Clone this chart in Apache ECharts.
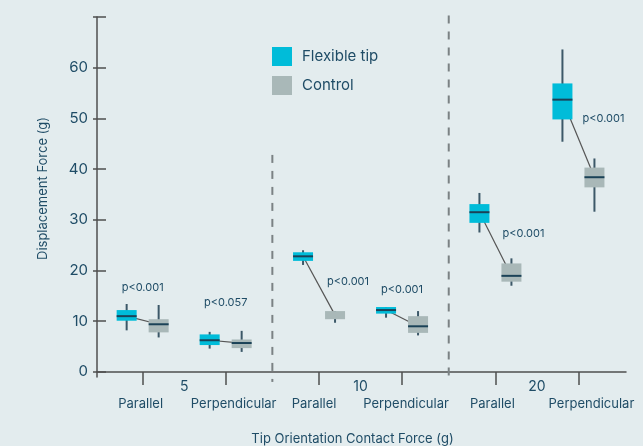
<!DOCTYPE html>
<html><head><meta charset="utf-8">
<script src="https://cdn.jsdelivr.net/npm/echarts@6/dist/echarts.min.js"></script>
<style>html,body{margin:0;padding:0;background:#e3ecee}#c{width:643px;height:446px}</style>
</head><body><div id="c"></div>
<script>
// ---------- data ----------
const categories = ['Parallel', 'Perpendicular', 'Parallel', 'Perpendicular', 'Parallel', 'Perpendicular'];
const forceGroups = ['5', '10', '20'];
const groupOfCategory = [0, 0, 1, 1, 2, 2];

const flexLow  = [8.2, 4.6, 21.1, 10.7, 27.5, 45.4];
const flexQ1   = [10.1, 5.3, 21.9, 11.5, 29.4, 49.8];
const flexMed  = [11.0, 6.25, 22.8, 12.2, 31.5, 53.7];
const flexQ3   = [12.2, 7.4, 23.6, 12.8, 33.1, 56.9];
const flexHigh = [13.4, 7.9, 24.0, 12.8, 35.3, 63.6];

const ctrlLow  = [6.8, 3.95, 9.7, 7.2, 17.0, 31.6];
const ctrlQ1   = [7.8, 4.7, 10.4, 7.7, 17.8, 36.4];
const ctrlMed  = [9.4, 5.7, null, 9.0, 18.95, 38.4];
const ctrlQ3   = [10.4, 6.4, 12.0, 11.0, 21.4, 40.3];
const ctrlHigh = [13.2, 8.1, 12.0, 12.0, 22.4, 42.1];

const pValues = ['p<0.001', 'p<0.057', 'p<0.001', 'p<0.001', 'p<0.001', 'p<0.001'];
const pLabelY = [16.7, 13.6, 17.8, 16.3, 27.3, 50.0];

const yTicks = [0, 10, 20, 30, 40, 50, 60, 70];
const yTickLabels = [0, 10, 20, 30, 40, 50, 60];
const separatorTop = [42.8, 70.3];

// ---------- layout / style ----------
const TEXT = '#1f4c66';
const AXIS = '#4f4f4f';
const FLEX = '#00bcd9';
const CTRL = '#a9b8b8';
const MEDIAN = '#1b4257';
const WHISKER = '#3c5868';
const FONT = 'Inter, "Noto Sans", sans-serif';

const GROUP_GAP = 0.125;
const X_MIN = -0.55, X_MAX = 5.823;
const GRID = {left: 97, right: 17, top: 17, bottom: 69};
const unitPx = (643 - GRID.left - GRID.right) / (X_MAX - X_MIN);
const catX = categories.map((c, i) => i + GROUP_GAP * groupOfCategory[i]);
const groupX = forceGroups.map((g, gi) => {
  const idx = groupOfCategory.map((gg, i) => gg === gi ? i : -1).filter(i => i >= 0);
  return idx.reduce((s, i) => s + catX[i], 0) / idx.length;
});
const labelShiftPx = [-2, 8, -5, 4, -3, 13];
const labelX = catX.map((x, i) => x + labelShiftPx[i] / unitPx);
const pShiftPx = [0, 0, 29, 0, 28, 25];
const sepX = [(catX[1] + catX[2]) / 2, (catX[3] + catX[4]) / 2];
const BOX_OFFSET = 16, BOX_HALF = 10;

function nearestIndex(arr, v) {
  let best = 0;
  arr.forEach((x, j) => { if (Math.abs(x - v) < Math.abs(arr[best] - v)) best = j; });
  return best;
}

function boxSeries(name, color, dx, low, q1, med, q3, high) {
  return {
    type: 'custom', name: name, z: 3,
    itemStyle: {color: color},
    data: catX.map((x, i) => [x, low[i], q1[i], med[i] == null ? NaN : med[i], q3[i], high[i]]),
    encode: {x: 0, y: [1, 2, 4, 5]},
    renderItem: function (params, api) {
      const x = api.value(0);
      const c = v => api.coord([x, v]);
      const pL = c(api.value(1)), p1 = c(api.value(2)), p3 = c(api.value(4)), pH = c(api.value(5));
      const cx = pL[0] + dx;
      const children = [
        {type: 'line', shape: {x1: cx, y1: pL[1], x2: cx, y2: pH[1]}, style: {stroke: WHISKER, lineWidth: 2}},
        {type: 'rect', shape: {x: cx - BOX_HALF, y: p3[1], width: BOX_HALF * 2, height: p1[1] - p3[1]}, style: {fill: color}}
      ];
      const m = api.value(3);
      if (m != null && !isNaN(m)) {
        const pm = c(m);
        children.push({type: 'line', shape: {x1: cx - BOX_HALF, y1: pm[1], x2: cx + BOX_HALF, y2: pm[1]}, style: {stroke: MEDIAN, lineWidth: 2}});
      }
      return {type: 'group', children: children};
    }
  };
}

const chart = echarts.init(document.getElementById('c'), null, {renderer: 'canvas'});
chart.setOption({
  backgroundColor: '#e3ecee',
  animation: false,
  textStyle: {fontFamily: FONT},
  grid: Object.assign({outerBoundsMode: 'none', containLabel: false}, GRID),
  legend: {
    data: [{name: 'Flexible tip', icon: 'rect'}, {name: 'Control', icon: 'rect'}],
    orient: 'vertical', left: 272, top: 47, padding: 0, itemWidth: 20, itemHeight: 19, itemGap: 10,
    textStyle: {fontSize: 15, color: TEXT, fontFamily: FONT, padding: [0, 0, 0, 5]}
  },
  xAxis: [{
    type: 'value', min: X_MIN, max: X_MAX, position: 'bottom',
    axisLine: {show: true, onZero: true, onZeroAxisIndex: 0, lineStyle: {color: AXIS, width: 1.5}},
    axisTick: {show: true, inside: false, length: 13, customValues: catX, lineStyle: {color: AXIS, width: 1.5}},
    axisLabel: {customValues: groupX, formatter: v => forceGroups[nearestIndex(groupX, v)], margin: 3, fontSize: 14, color: TEXT, fontFamily: FONT},
    splitLine: {show: false},
    name: 'Tip Orientation Contact Force (g)', nameLocation: 'middle', nameGap: 56,
    nameTextStyle: {fontSize: 13, color: TEXT, fontFamily: FONT, padding: [0, 18, 0, 0]}
  }, {
    type: 'value', min: X_MIN, max: X_MAX, position: 'bottom',
    axisLine: {show: false, onZero: true, onZeroAxisIndex: 1},
    axisTick: {show: false},
    axisLabel: {customValues: labelX, formatter: v => categories[nearestIndex(labelX, v)], margin: 21, fontSize: 13, color: TEXT, fontFamily: FONT},
    splitLine: {show: false}
  }],
  yAxis: [{
    type: 'value', min: -1, max: 70, position: 'left',
    name: 'Displacement Force (g)', nameLocation: 'middle', nameGap: 47,
    nameTextStyle: {fontSize: 13, color: TEXT, fontFamily: FONT, padding: [0, 0, 0, 17]},
    axisLine: {show: true, onZero: false, lineStyle: {color: AXIS, width: 1.5}},
    axisTick: {show: true, inside: true, length: 9, customValues: yTicks, lineStyle: {color: AXIS, width: 1.5}},
    axisLabel: {customValues: yTickLabels, margin: 9, fontSize: 15, color: TEXT, fontFamily: FONT},
    splitLine: {show: false}
  }, {
    type: 'value', min: -1, max: 70, position: 'left',
    axisLine: {show: false, onZero: false},
    axisTick: {show: true, inside: false, length: 4, customValues: yTicks, lineStyle: {color: AXIS, width: 1.5}},
    axisLabel: {show: false},
    splitLine: {show: false}
  }],
  series: [
    {
      type: 'custom', name: 'links', z: 2, silent: true,
      data: catX.map((x, i) => [x, flexMed[i], ctrlMed[i] == null ? (ctrlQ1[i] + ctrlQ3[i]) / 2 : ctrlMed[i]]),
      encode: {x: 0, y: [1, 2]},
      renderItem: function (params, api) {
        const a = api.coord([api.value(0), api.value(1)]);
        const b = api.coord([api.value(0), api.value(2)]);
        return {type: 'line', shape: {x1: a[0] - BOX_OFFSET, y1: a[1], x2: b[0] + BOX_OFFSET, y2: b[1]}, style: {stroke: '#555', lineWidth: 1.2}};
      }
    },
    boxSeries('Flexible tip', FLEX, -BOX_OFFSET, flexLow, flexQ1, flexMed, flexQ3, flexHigh),
    boxSeries('Control', CTRL, BOX_OFFSET, ctrlLow, ctrlQ1, ctrlMed, ctrlQ3, ctrlHigh),
    {
      type: 'custom', name: 'separators', z: 1, silent: true,
      data: sepX.map((x, i) => [x, separatorTop[i]]),
      encode: {x: 0, y: 1},
      renderItem: function (params, api) {
        const t = api.coord([api.value(0), api.value(1)]);
        const b = api.coord([api.value(0), 0]);
        return {type: 'line', shape: {x1: t[0], y1: t[1], x2: t[0], y2: b[1] + 10},
          style: {stroke: '#7b8284', lineWidth: 2, lineDash: [8, 8]}};
      }
    },
    {
      type: 'custom', name: 'pvalues', z: 4, silent: true,
      data: catX.map((x, i) => [x, pLabelY[i], i]),
      encode: {x: 0, y: 1},
      renderItem: function (params, api) {
        const i = api.value(2);
        const p = api.coord([api.value(0), api.value(1)]);
        return {type: 'text', x: p[0] + pShiftPx[i], y: p[1],
          style: {text: pValues[i], fill: TEXT, fontSize: 11, fontFamily: FONT, align: 'center', verticalAlign: 'middle'}};
      }
    }
  ]
});
</script></body></html>
